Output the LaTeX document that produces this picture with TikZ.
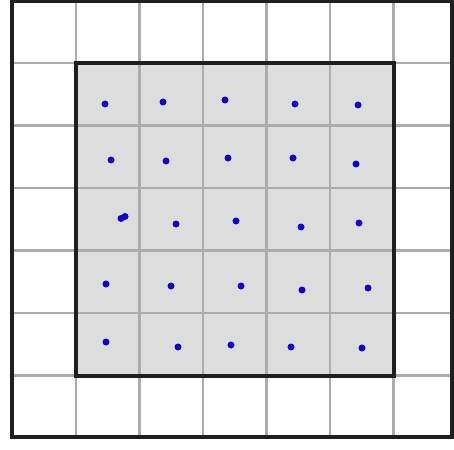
\documentclass[tikz,border=0pt]{standalone}
\definecolor{cellfill}{RGB}{221,221,221}
\definecolor{gridgray}{RGB}{172,172,172}
\definecolor{dotblue}{RGB}{20,0,200}
\begin{document}
\begin{tikzpicture}[x=1pt,y=-1pt,
  gridline/.style={draw=gridgray,line width=2.4pt},
  border/.style={draw=black!88,line width=4pt},
  pt/.style={circle,fill=dotblue,inner sep=0pt,minimum size=7pt}]
\useasboundingbox (0,0) rectangle (454,449);
\fill[white] (0,0) rectangle (454,449);
% shaded 5x5 block
\fill[cellfill] (76,63) rectangle (393.5,375.5);
% grid lines
\foreach \x in {76,139.5,203,266.5,330,393.5}
  \draw[gridline] (\x,1) -- (\x,437);
\foreach \y in {63,125.5,188,250.5,313,375.5}
  \draw[gridline] (12,\y) -- (452,\y);
% borders
\draw[border] (76,63) rectangle (393.5,375.5);
\draw[border] (12,1) rectangle (452,437);
% points
\foreach \px/\py [count=\i] in {105/104,163/102,225/100,295/104,358/105,
  111/160,166/161,228/158,293/158,356/164,
  121/218.5,176/224,236/221,301/227,359/223,
  106/284,171/286,241/286,302/290,368/288,
  106/342,178/347,231/345,291/347,362/348}
  \node[pt] (p\i) at (\px,\py) {};
\node[pt] (p26) at (125,216.5) {};
\end{tikzpicture}
\end{document}
